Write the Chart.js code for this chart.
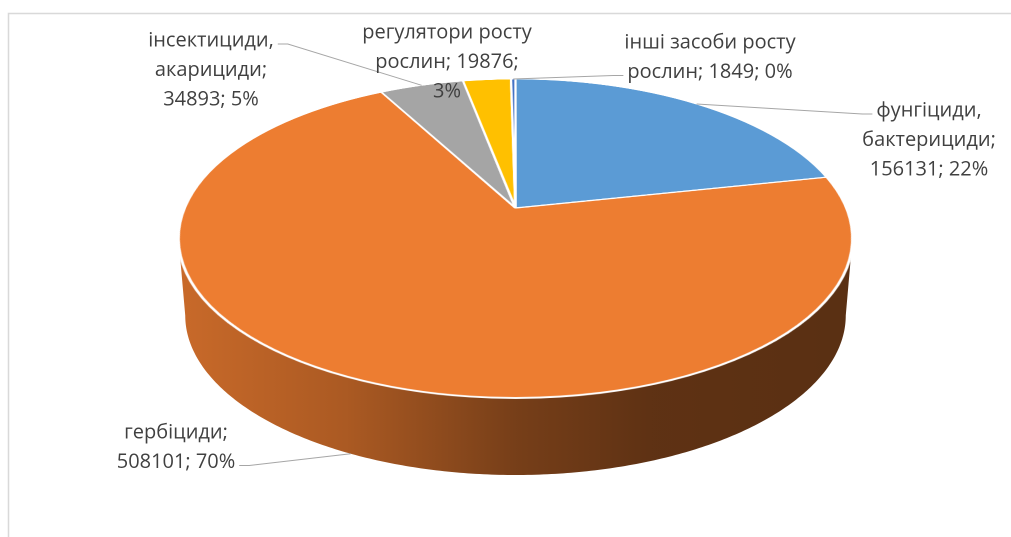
<!DOCTYPE html>
<html>
<head>
<meta charset="utf-8">
<script src="https://cdn.jsdelivr.net/npm/chart.js@4.4.0/dist/chart.umd.min.js"></script>
<style>
  html, body { margin: 0; padding: 0; background: #fff; overflow: hidden; }
  #wrap { position: relative; width: 1011px; height: 537px; }
</style>
</head>
<body>
<div id="wrap"><canvas id="pesticideChart" width="1011" height="537"></canvas></div>
<script>
// дані
const categories = ['фунгіциди, бактерициди', 'гербіциди', 'інсектициди, акарициди', 'регулятори росту рослин', 'інші засоби росту рослин'];
const values = [156131, 508101, 34893, 19876, 1849];
const sliceColors = ['#5B9BD5', '#ED7D31', '#A5A5A5', '#FFC000', '#4472C4'];

// розміщення підписів (центр, перший рядок, ширина переносу, куди кріпиться виноска)
const labelLayout = [
  { x: 929, y: 111, wrap: 150, attach: 'left', line: 0 },
  { x: 176, y: 433, wrap: 150, attach: 'right', line: 1 },
  { x: 211, y: 41, wrap: 150, attach: 'right', line: 0 },
  { x: 447, y: 33, wrap: 174, attach: null, line: 0 },
  { x: 710, y: 43, wrap: 185, attach: 'left', line: 1 }
];

// вигляд 3D кола (перспектива)
const view = { cx: 515.5, top: 79, apex: 208, bottom: 398, halfWidth: 337, depth: 77, baseShrink: 0.98 };
const R = 250; // радіус плаского кола до нахилу
const sideShades = [[0, 0.85], [0.25, 0.72], [0.5, 0.5], [0.7, 0.4], [1, 0.38]];

const pc = (function () {
  const b = view.apex;
  const c = (2 * b - view.top - view.bottom) / (view.bottom - view.top);
  const a = view.bottom * (1 + c) - b;
  const k = view.halfWidth * Math.sqrt(1 - c * c);
  return { a: a, b: b, c: c, k: k };
})();

function project(u, v) {
  const w = 1 + pc.c * v;
  return { x: view.cx + pc.k * u / w, y: (pc.a * v + pc.b) / w };
}
function projectBase(u, v) {
  const p = project(u, v);
  return { x: view.cx + (p.x - view.cx) * view.baseShrink, y: p.y + view.depth };
}
function vOfY(y) {
  return (pc.b - y) / (y * pc.c - pc.a);
}
function shade(hex, f) {
  const n = parseInt(hex.slice(1), 16);
  return 'rgb(' + Math.round((n >> 16 & 255) * f) + ',' + Math.round((n >> 8 & 255) * f) + ',' + Math.round((n & 255) * f) + ')';
}

function drawSides(ctx, arcs) {
  const tA = Math.asin(-pc.c), tB = Math.PI - tA;
  const x0 = view.cx - view.halfWidth, x1 = view.cx + view.halfWidth;
  arcs.forEach(function (arc, i) {
    for (let k = -1; k <= 1; k++) {
      const s = Math.max(arc.startAngle, tA + 2 * Math.PI * k);
      const e = Math.min(arc.endAngle, tB + 2 * Math.PI * k);
      if (e <= s) continue;
      const n = Math.max(2, Math.ceil((e - s) / 0.01));
      ctx.beginPath();
      for (let j = 0; j <= n; j++) {
        const t = s + (e - s) * j / n;
        const p = project(Math.cos(t), Math.sin(t));
        if (j === 0) ctx.moveTo(p.x, p.y); else ctx.lineTo(p.x, p.y);
      }
      for (let j = n; j >= 0; j--) {
        const t = s + (e - s) * j / n;
        const p = projectBase(Math.cos(t), Math.sin(t));
        ctx.lineTo(p.x, p.y);
      }
      ctx.closePath();
      const g = ctx.createLinearGradient(x0, 0, x1, 0);
      sideShades.forEach(function (st) { g.addColorStop(st[0], shade(sliceColors[i], st[1])); });
      ctx.fillStyle = g;
      ctx.fill();
    }
  });
}

// нахиляємо кругову діаграму, яку намалював Chart.js
const tiltPlugin = {
  id: 'tilt',
  afterDatasetsDraw(chart) {
    const ctx = chart.ctx;
    const pr = chart.currentDevicePixelRatio;
    const arcs = chart.getDatasetMeta(0).data;
    const ox = arcs[0].x, oy = arcs[0].y;
    const m = 4;
    const sx = ox - R - m, sy = oy - R - m, size = 2 * (R + m);
    const off = document.createElement('canvas');
    off.width = Math.round(size * pr);
    off.height = Math.round(size * pr);
    off.getContext('2d').drawImage(chart.canvas, sx * pr, sy * pr, size * pr, size * pr, 0, 0, off.width, off.height);

    ctx.save();
    ctx.clearRect(sx - 2, sy - 2, size + 4, size + 4);
    drawSides(ctx, arcs);

    ctx.imageSmoothingEnabled = true;
    ctx.imageSmoothingQuality = 'high';
    const step = 1 / pr;
    const y0 = Math.floor(project(0, -1 - m / R).y * pr) / pr;
    const y1 = Math.ceil(project(0, 1 + m / R).y * pr) / pr;
    for (let y = y0; y < y1; y += step) {
      const va = vOfY(y), vb = vOfY(y + step);
      const vm = (va + vb) / 2;
      const s = 1 / (1 + pc.c * vm);
      const srcY = (va * R + R + m) * pr;
      const srcH = (vb - va) * R * pr;
      const half = pc.k * s * (R + m) / R;
      ctx.drawImage(off, 0, srcY, off.width, srcH, view.cx - half, y, 2 * half, step);
    }
    ctx.restore();
  }
};

function wrapText(ctx, text, maxW) {
  const words = text.split(' ');
  const lines = [];
  let cur = '';
  words.forEach(function (w) {
    const test = cur ? cur + ' ' + w : w;
    if (cur && ctx.measureText(test).width > maxW) {
      lines.push(cur);
      cur = w;
    } else {
      cur = test;
    }
  });
  if (cur) lines.push(cur);
  return lines;
}

// підписи, виноски і рамка
const labelPlugin = {
  id: 'sliceLabels',
  afterDraw(chart) {
    const ctx = chart.ctx;
    const arcs = chart.getDatasetMeta(0).data;
    const total = values.reduce(function (s, v) { return s + v; }, 0);
    const lineH = 29.5;

    ctx.save();
    ctx.strokeStyle = '#d9d9d9';
    ctx.lineWidth = 1.5;
    ctx.beginPath();
    ctx.moveTo(8.5, 537);
    ctx.lineTo(8.5, 13.5);
    ctx.lineTo(1011, 13.5);
    ctx.stroke();

    ctx.font = '20px "Open Sans"';
    ctx.textAlign = 'center';
    ctx.textBaseline = 'middle';
    arcs.forEach(function (arc, i) {
      const lay = labelLayout[i];
      const pct = Math.round(values[i] / total * 100);
      const text = categories[i] + '; ' + values[i] + '; ' + pct + '%';
      const lines = wrapText(ctx, text, lay.wrap);

      if (lay.attach) {
        const mid = (arc.startAngle + arc.endAngle) / 2;
        const u = Math.cos(mid), v = Math.sin(mid);
        const anchor = v > -pc.c ? projectBase(u, v) : project(u, v);
        const w = ctx.measureText(lines[lay.line]).width;
        const ly = lay.y + lay.line * lineH + 3;
        const lx = lay.attach === 'left' ? lay.x - w / 2 - 4 : lay.x + w / 2 + 4;
        const kx = lay.attach === 'left' ? lx - 10 : lx + 10;
        ctx.strokeStyle = '#a6a6a6';
        ctx.lineWidth = 1;
        ctx.beginPath();
        ctx.moveTo(lx, ly);
        ctx.lineTo(kx, ly);
        ctx.lineTo(anchor.x, anchor.y);
        ctx.stroke();
      }

      ctx.fillStyle = '#404040';
      lines.forEach(function (ln, j) {
        ctx.fillText(ln, lay.x, lay.y + j * lineH);
      });
    });
    ctx.restore();
  }
};

const ctx = document.getElementById('pesticideChart').getContext('2d');
new Chart(ctx, {
  type: 'pie',
  data: {
    labels: categories,
    datasets: [{
      data: values,
      backgroundColor: sliceColors,
      borderColor: '#ffffff',
      borderWidth: 2
    }]
  },
  options: {
    responsive: false,
    devicePixelRatio: 2,
    animation: false,
    events: [],
    radius: R,
    rotation: 0,
    plugins: {
      legend: { display: false },
      tooltip: { enabled: false }
    }
  },
  plugins: [tiltPlugin, labelPlugin]
});
</script>
</body>
</html>
